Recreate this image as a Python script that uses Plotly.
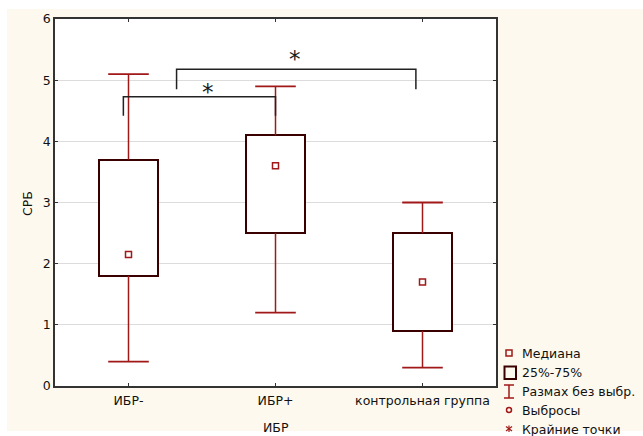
import plotly.graph_objects as go

# Group labels and box statistics for CRP (СРБ)
categories = ["ИБР-", "ИБР+", "контрольная группа"]
q1 = [1.8, 2.5, 0.9]
q3 = [3.7, 4.1, 2.5]
median = [2.15, 3.6, 1.7]
whisker_low = [0.4, 1.2, 0.3]
whisker_high = [5.1, 4.9, 3.0]
y_ticks = [0, 1, 2, 3, 4, 5, 6]

legend_labels = ["Медиана", "25%-75%", "Размах без выбр.", "Выбросы", "Крайние точки"]

W, H = 643, 436
ML, MR, MT, MB = 55, 147, 19, 50
PW, PH = W - ML - MR, H - MT - MB

BOX_EDGE = "#3A0000"
RED = "#A01818"
CREAM = "#FEF9EE"
FONT = "DejaVu Sans, Verdana, sans-serif"
FS = 12.5

pos = list(range(len(categories)))


def px_x(px):
    return (px - ML) / PW


def px_y(py):
    return (H - MB - py) / PH


fig = go.Figure()

# 25%-75% boxes
fig.add_trace(go.Bar(
    x=pos, y=[b - a for a, b in zip(q1, q3)], base=q1,
    width=0.4,
    marker=dict(color="white", line=dict(color=BOX_EDGE, width=2)),
    showlegend=False,
))

# whisker stems (box top to max, min to box bottom)
wx, wy = [], []
for i, lo, a, b, hi in zip(pos, whisker_low, q1, q3, whisker_high):
    wx += [i, i, None, i, i, None]
    wy += [b, hi, None, lo, a, None]
fig.add_trace(go.Scatter(
    x=wx, y=wy, mode="lines", line=dict(color=RED, width=1.5),
    connectgaps=False, hoverinfo="skip", showlegend=False,
))

# whisker caps
fig.add_trace(go.Scatter(
    x=pos + pos, y=whisker_high + whisker_low, mode="markers",
    marker=dict(symbol="line-ew", size=29, color=RED,
                line=dict(width=1.8, color=RED)),
    hoverinfo="skip", showlegend=False,
))

# medians
fig.add_trace(go.Scatter(
    x=pos, y=median, mode="markers",
    marker=dict(symbol="square-open", size=6, color=RED,
                line=dict(width=1.5, color=RED)),
    showlegend=False,
))

shapes = [
    # cream page background and white plotting area
    dict(type="rect", xref="paper", yref="paper",
         x0=px_x(7), x1=px_x(W + 5), y0=px_y(431), y1=px_y(9),
         fillcolor=CREAM, line=dict(width=0), layer="below"),
    dict(type="rect", xref="paper", yref="paper",
         x0=0, x1=1, y0=0, y1=1,
         fillcolor="white", line=dict(width=0), layer="below"),
]

# significance brackets
brackets = [
    (-0.035, 1.0, 4.73, 4.42, 4.42),
    (0.327, 1.955, 5.18, 4.85, 4.85),
]
for xa, xb, ytop, ya, yb in brackets:
    shapes.append(dict(
        type="path", xref="x", yref="y",
        path=f"M {xa},{ya} L {xa},{ytop} L {xb},{ytop} L {xb},{yb}",
        line=dict(color="#222222", width=1.5),
    ))

# legend symbols
shapes += [
    dict(type="rect", xref="paper", yref="paper",
         x0=px_x(506), x1=px_x(512), y0=px_y(356), y1=px_y(350),
         line=dict(color=RED, width=1.5)),
    dict(type="rect", xref="paper", yref="paper",
         x0=px_x(504.5), x1=px_x(516), y0=px_y(379), y1=px_y(366.5),
         line=dict(color=BOX_EDGE, width=2)),
    dict(type="line", xref="paper", yref="paper",
         x0=px_x(509), x1=px_x(509), y0=px_y(385), y1=px_y(398),
         line=dict(color=RED, width=1.5)),
    dict(type="line", xref="paper", yref="paper",
         x0=px_x(504), x1=px_x(514), y0=px_y(385), y1=px_y(385),
         line=dict(color=RED, width=1.5)),
    dict(type="line", xref="paper", yref="paper",
         x0=px_x(504), x1=px_x(514), y0=px_y(398), y1=px_y(398),
         line=dict(color=RED, width=1.5)),
    dict(type="circle", xref="paper", yref="paper",
         x0=px_x(506.5), x1=px_x(511.5), y0=px_y(412.5), y1=px_y(407.5),
         line=dict(color=RED, width=1.5)),
    dict(type="line", xref="paper", yref="paper",
         x0=px_x(509), x1=px_x(509), y0=px_y(425.5), y1=px_y(432),
         line=dict(color=RED, width=1.2)),
    dict(type="line", xref="paper", yref="paper",
         x0=px_x(506), x1=px_x(512), y0=px_y(426.5), y1=px_y(431),
         line=dict(color=RED, width=1.2)),
    dict(type="line", xref="paper", yref="paper",
         x0=px_x(512), x1=px_x(506), y0=px_y(426.5), y1=px_y(431),
         line=dict(color=RED, width=1.2)),
]

annotations = []
for label, py in zip(legend_labels, [353, 372.5, 391, 410, 429]):
    annotations.append(dict(
        xref="paper", yref="paper", x=px_x(520), y=px_y(py),
        xanchor="left", yanchor="middle", text=label, showarrow=False,
        font=dict(family=FONT, size=FS, color="#111111"),
    ))

# significance stars
for sx, sy in [(0.54, 4.8), (1.135, 5.34)]:
    annotations.append(dict(
        x=sx, y=sy, xref="x", yref="y", text="*", showarrow=False,
        xanchor="center", yanchor="middle",
        font=dict(family="DejaVu Sans", size=23, color="#1A1A1A"),
    ))

# axis titles
annotations.append(dict(
    xref="paper", yref="paper", x=px_x(276), y=px_y(427),
    xanchor="center", yanchor="middle", text="ИБР", showarrow=False,
    font=dict(family=FONT, size=FS, color="#111111"),
))
annotations.append(dict(
    xref="paper", yref="paper", x=px_x(27), y=px_y(204),
    xanchor="center", yanchor="middle", text="СРБ", showarrow=False,
    textangle=-90, font=dict(family=FONT, size=FS, color="#111111"),
))

fig.update_layout(
    width=W, height=H,
    margin=dict(l=ML, r=MR, t=MT, b=MB, pad=0),
    paper_bgcolor="white", plot_bgcolor="white",
    shapes=shapes, annotations=annotations,
    showlegend=False, bargap=0,
    font=dict(family=FONT, size=FS, color="#111111"),
)
fig.update_xaxes(
    range=[-0.5, 2.5], tickvals=pos, ticktext=categories,
    showline=True, linecolor="#333333", linewidth=1.5, mirror="ticks",
    ticks="inside", ticklen=3, tickcolor="#333333",
    showgrid=False, zeroline=False, ticklabelstandoff=2,
    tickfont=dict(family=FONT, size=FS, color="#111111"),
)
fig.update_yaxes(
    range=[0, 6], tickvals=y_ticks,
    showline=True, linecolor="#333333", linewidth=1.5, mirror="ticks",
    ticks="inside", ticklen=3, tickcolor="#333333",
    showgrid=True, gridcolor="#DCDCDC", gridwidth=1, zeroline=False,
    tickfont=dict(family=FONT, size=FS, color="#111111"),
)

fig.write_html("out.html")
